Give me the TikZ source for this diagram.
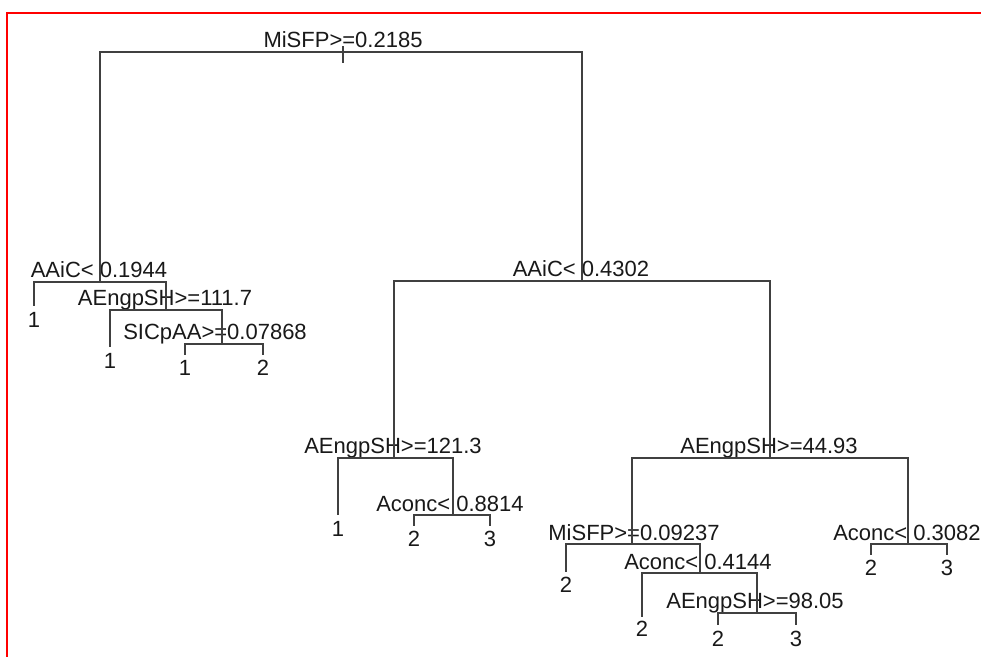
\documentclass[tikz,border=0pt]{standalone}
\usepackage{fontspec}
\setmainfont{Liberation Sans}
\begin{document}
\begin{tikzpicture}[x=1pt,y=-1pt,
  edge/.style={draw=black!75,line width=2.2pt},
  lbl/.style={anchor=base,inner sep=0pt,text=black!90,font=\fontsize{22}{24}\selectfont},
  leaf/.style={anchor=north,inner sep=0pt,text=black!90,font=\fontsize{22}{24}\selectfont},
  frame/.style={draw=red,line width=2.8pt}]
\useasboundingbox (0,0) rectangle (981,657);
\fill[white] (0,0) rectangle (981,657);
% frame
\coordinate (ftr) at (981,13);
\coordinate (ftl) at (7,13);
\coordinate (fbl) at (7,657);
\draw[frame] (ftr) -- (ftl) -- (fbl);
% tree nodes (x, bar y) and leaves (x, end y)
\coordinate (r) at (343,52);
\coordinate (a) at (100,282);
\coordinate (b) at (582,281);
\coordinate (c) at (166,310);
\coordinate (d) at (222,344);
\coordinate (e) at (394,458);
\coordinate (f) at (770,458);
\coordinate (g) at (453,515);
\coordinate (h) at (632,544);
\coordinate (i) at (700,573);
\coordinate (j) at (757,613);
\coordinate (k) at (908,544);
\coordinate (a1) at (34,306);
\coordinate (c1) at (110,347);
\coordinate (d1) at (185,355);
\coordinate (d2) at (263,355);
\coordinate (e1) at (338,515);
\coordinate (g1) at (414,526);
\coordinate (g2) at (490,526);
\coordinate (h1) at (566,572);
\coordinate (i1) at (642,617);
\coordinate (j1) at (718,625);
\coordinate (j2) at (796,625);
\coordinate (k1) at (871,555);
\coordinate (k2) at (947,555);
% split labels
\node[lbl] (rl) at (343,47) {MiSFP>=0.2185};
\node[lbl] (al) at (99,277) {AAiC< 0.1944};
\node[lbl] (cl) at (165,305) {AEngpSH>=111.7};
\node[lbl] (dl) at (215,339) {SICpAA>=0.07868};
\node[lbl] (bl) at (581,276) {AAiC< 0.4302};
\node[lbl] (el) at (393,453) {AEngpSH>=121.3};
\node[lbl] (gl) at (450,511) {Aconc< 0.8814};
\node[lbl] (fl) at (769,453) {AEngpSH>=44.93};
\node[lbl] (hl) at (634,540) {MiSFP>=0.09237};
\node[lbl] (il) at (698,569) {Aconc< 0.4144};
\node[lbl] (jl) at (755,608) {AEngpSH>=98.05};
\node[lbl] (kl) at (907,540) {Aconc< 0.3082};
% leaf labels
\node[leaf] (a1t) at ([yshift=-6pt]a1) {1};
\node[leaf] (c1t) at ([yshift=-6pt]c1) {1};
\node[leaf] (d1t) at ([yshift=-5pt]d1) {1};
\node[leaf] (d2t) at ([yshift=-5pt]d2) {2};
\node[leaf] (e1t) at ([yshift=-6pt]e1) {1};
\node[leaf] (g1t) at ([yshift=-5pt]g1) {2};
\node[leaf] (g2t) at ([yshift=-5pt]g2) {3};
\node[leaf] (h1t) at ([yshift=-5pt]h1) {2};
\node[leaf] (i1t) at ([yshift=-4pt]i1) {2};
\node[leaf] (j1t) at ([yshift=-6pt]j1) {2};
\node[leaf] (j2t) at ([yshift=-6pt]j2) {3};
\node[leaf] (k1t) at ([yshift=-5pt]k1) {2};
\node[leaf] (k2t) at ([yshift=-5pt]k2) {3};
% connectors
\draw[edge] ([yshift=6pt]r) -- ([yshift=-11pt]r);
\draw[edge] (r) -| (a);
\draw[edge] (r) -| (b);
\draw[edge] (a) -| (a1);
\draw[edge] (a) -| (c);
\draw[edge] (c) -| (c1);
\draw[edge] (c) -| (d);
\draw[edge] (d) -| (d1);
\draw[edge] (d) -| (d2);
\draw[edge] (b) -| (e);
\draw[edge] (b) -| (f);
\draw[edge] (e) -| (e1);
\draw[edge] (e) -| (g);
\draw[edge] (g) -| (g1);
\draw[edge] (g) -| (g2);
\draw[edge] (f) -| (h);
\draw[edge] (f) -| (k);
\draw[edge] (h) -| (h1);
\draw[edge] (h) -| (i);
\draw[edge] (i) -| (i1);
\draw[edge] (i) -| (j);
\draw[edge] (j) -| (j1);
\draw[edge] (j) -| (j2);
\draw[edge] (k) -| (k1);
\draw[edge] (k) -| (k2);
\end{tikzpicture}
\end{document}
